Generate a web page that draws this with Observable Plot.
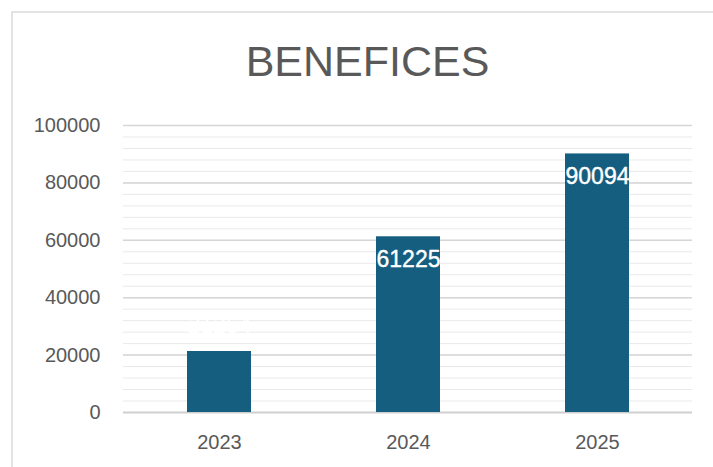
<!DOCTYPE html>
<html><head><meta charset="utf-8">
<script src="https://cdn.jsdelivr.net/npm/d3@7"></script>
<script src="https://cdn.jsdelivr.net/npm/@observablehq/plot@0.6"></script>
<style>
body{margin:0;background:#fff;}
#wrap{position:relative;width:713px;height:467px;overflow:hidden;}
#border{position:absolute;left:11px;top:11px;width:800px;height:600px;border:2px solid #e3e3e3;box-sizing:border-box;}
#chart{position:absolute;left:0;top:0;}
</style></head><body>
<div id="wrap"><div id="border"></div><div id="chart"></div></div>
<script>
const title = "BENEFICES";
const years = ["2023", "2024", "2025"];
const profits = [21254, 61225, 90094];
const yTicks = [0, 20000, 40000, 60000, 80000, 100000];
const minorTicks = d3.range(0, 100001, 4000);

const data = years.map((year, i) => ({year, value: profits[i]}));

const chart = Plot.plot({
  width: 713, height: 467,
  marginLeft: 123, marginRight: 21, marginTop: 125, marginBottom: 55,
  style: {fontFamily: "'Liberation Sans', Arial, Helvetica, sans-serif", background: "transparent", color: "#595959"},
  x: {domain: years, paddingInner: 0.663, paddingOuter: 0.3315, label: null},
  y: {domain: [0, 100000], label: null},
  marks: [
    Plot.ruleY(minorTicks, {stroke: "#e9e9e9", strokeWidth: 1}),
    Plot.ruleY(yTicks.filter(d => d > 0), {stroke: "#d6d6d6", strokeWidth: 1.5}),
    Plot.ruleY([0], {stroke: "#cfcfcf", strokeWidth: 2}),
    Plot.barY(data, {x: "year", y: "value", fill: "#165e7f"}),
    Plot.text(data.filter(d => d.value >= 30000), {x: "year", y: "value", text: d => String(d.value), dy: 23, fill: "white", fontSize: 23, stroke: "white", strokeWidth: 0.4}),
    Plot.text(data.filter(d => d.value < 30000), {x: "year", y: "value", text: d => String(d.value), dy: -26, fill: "white", fontSize: 23}),
    Plot.axisY({ticks: yTicks, tickSize: 0, tickPadding: 23, fontSize: 20, tickFormat: d => String(d), label: null, fill: "#595959"}),
    Plot.axisX({tickSize: 0, tickPadding: 22, fontSize: 20, label: null, fill: "#595959"}),
    Plot.text([title], {frameAnchor: "top-left", dx: 244, dy: -80, fontSize: 43, textAnchor: "middle", fill: "#595959"})
  ]
});
document.getElementById("chart").append(chart);
</script>
</body></html>
